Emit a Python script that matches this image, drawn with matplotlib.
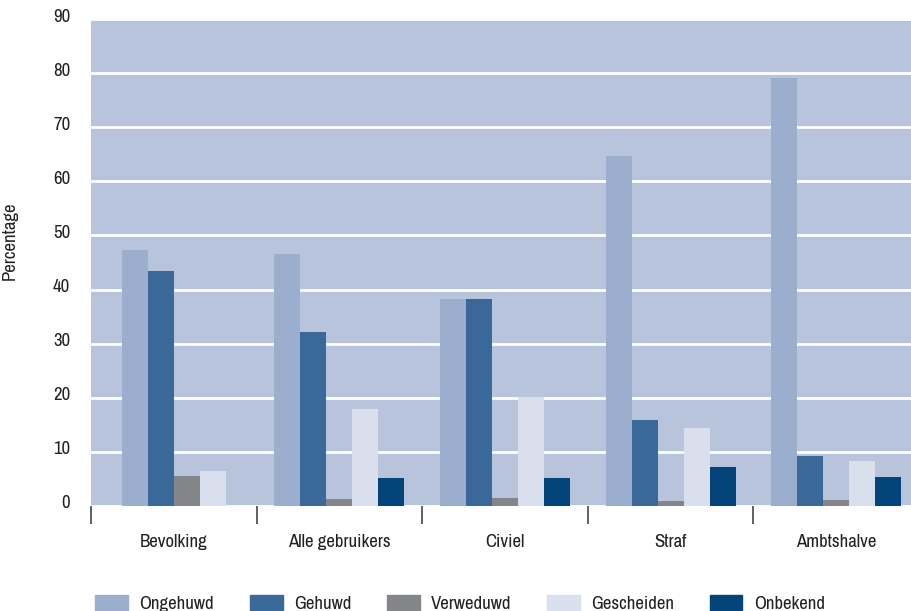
import matplotlib
matplotlib.use("Agg")
import matplotlib.pyplot as plt
import matplotlib.transforms as mtransforms
import numpy as np

plt.rcParams['font.family'] = ["Archivo Narrow", "Roboto Condensed", "DejaVu Sans"]

categories = ["Bevolking", "Alle gebruikers", "Civiel", "Straf", "Ambtshalve"]
series_names = ["Ongehuwd", "Gehuwd", "Verweduwd", "Gescheiden", "Onbekend"]
ongehuwd = [47.3, 46.6, 38.3, 64.7, 79.1]
gehuwd = [43.4, 32.2, 38.3, 15.9, 9.2]
verweduwd = [5.5, 1.3, 1.5, 0.9, 1.1]
gescheiden = [6.5, 17.9, 20.1, 14.4, 8.3]
onbekend = [None, 5.2, 5.2, 7.2, 5.4]
yticks = [0, 10, 20, 30, 40, 50, 60, 70, 80, 90]

series = [ongehuwd, gehuwd, verweduwd, gescheiden, onbekend]
colors = ["#9BAECE", "#3A6899", "#838588", "#D9DFEC", "#03447B"]

W, H = 911, 611
fig = plt.figure(figsize=(W / 100, H / 100), dpi=100)
left, right, top, bottom = 91, 919, 19, 506
ax = fig.add_axes([left / W, (H - bottom) / H, (right - left) / W, (bottom - top) / H])
ax.set_facecolor("#B8C4DC")

bw = 0.157
for gi, cat in enumerate(categories):
    present = [si for si in range(len(series)) if series[si][gi] is not None]
    n = len(present)
    for k, si in enumerate(present):
        x = gi + (k - (n - 1) / 2) * bw
        ax.bar(x, series[si][gi], width=bw, color=colors[si], zorder=3)

handles = [plt.Rectangle((0, 0), 1, 1, color=c) for c in colors]

fs = 13.5
ax.set_xlim(-0.5, len(categories) - 0.5)
ax.set_ylim(0, 90)
ax.set_yticks(yticks)
ax.yaxis.grid(True, color="white", linewidth=2, zorder=1)
ax.set_axisbelow(True)
for s in ax.spines.values():
    s.set_visible(False)
ax.tick_params(axis="y", length=0, labelsize=fs, pad=15, colors="#222222")
shift = mtransforms.ScaledTranslation(0, 4 / 100, fig.dpi_scale_trans)
for lbl in ax.get_yticklabels():
    lbl.set_transform(lbl.get_transform() + shift)
ax.set_xticks(range(len(categories)))
ax.set_xticklabels(categories, fontsize=fs, color="#222222")
ax.tick_params(axis="x", which="major", length=0, pad=20)
ax.set_xticks(np.arange(-0.5, len(categories), 1.0), minor=True)
ax.tick_params(axis="x", which="minor", length=13, width=1.2, color="#444444")
ax.set_ylabel("Percentage", fontsize=fs, color="#222222")
ax.yaxis.set_label_coords(-(91 - 18) / 828, 0.545)

fig.legend(handles, series_names, loc="lower center", bbox_to_anchor=(0.505, -0.03),
           ncol=5, frameon=False, fontsize=fs, handlelength=1.75, handleheight=1.0,
           columnspacing=1.9, handletextpad=0.6, labelcolor="#222222")

fig.savefig("out.png", dpi=100)
